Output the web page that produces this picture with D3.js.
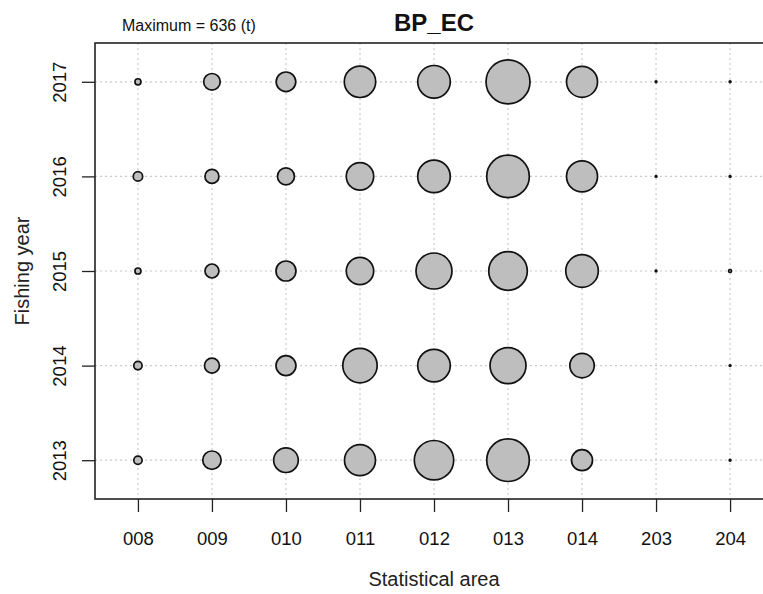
<!DOCTYPE html>
<html>
<head>
<meta charset="utf-8">
<script src="https://cdn.jsdelivr.net/npm/d3@7"></script>
<style>
  body { margin: 0; background: #fff; }
  svg { font-family: "Liberation Sans", Arial, sans-serif; }
</style>
</head>
<body>
<div id="chart"></div>
<script>
const areas = ["008", "009", "010", "011", "012", "013", "014", "203", "204"];
const years = [2013, 2014, 2015, 2016, 2017];

// catch (t) per area, one array per fishing year
const catch2013 = [23, 111, 199, 316, 510, 596, 145, 0, 1];
const catch2014 = [23, 74, 131, 389, 349, 426, 196, 0, 1];
const catch2015 = [12, 64, 131, 247, 426, 489, 349, 1, 3];
const catch2016 = [29, 64, 95, 247, 349, 596, 316, 1, 1];
const catch2017 = [12, 90, 126, 324, 349, 636, 316, 1, 1];

const catchByYear = [catch2013, catch2014, catch2015, catch2016, catch2017];
const maxCatch = 636;

const w = 763,
  h = 594;
const plotLeft = 95,
  plotRight = 773,
  plotTop = 43,
  plotBottom = 499;

const svg = d3
  .select("#chart")
  .append("svg")
  .attr("width", w)
  .attr("height", h);

const xScale = d3.scalePoint().domain(areas).range([plotLeft, plotRight]).padding(0.58);
const yScale = d3.scalePoint().domain(years).range([plotBottom, plotTop]).padding(0.41);
const rScale = d3.scaleSqrt().domain([0, maxCatch]).range([0, 22]);

// grid
const grid = svg.append("g").attr("stroke", "#cccccc").attr("stroke-width", 1.2).attr("stroke-dasharray", "2,3");
grid
  .selectAll("line.v")
  .data(areas)
  .enter()
  .append("line")
  .attr("x1", (d) => xScale(d))
  .attr("x2", (d) => xScale(d))
  .attr("y1", plotTop)
  .attr("y2", plotBottom);
grid
  .selectAll("line.h")
  .data(years)
  .enter()
  .append("line")
  .attr("x1", plotLeft)
  .attr("x2", plotRight)
  .attr("y1", (d) => yScale(d))
  .attr("y2", (d) => yScale(d));

// bubbles
const cells = [];
years.forEach((yr, i) => {
  areas.forEach((a, j) => {
    cells.push({ area: a, year: yr, value: catchByYear[i][j] });
  });
});

svg
  .append("g")
  .selectAll("circle")
  .data(cells.filter((d) => d.value > 0))
  .enter()
  .append("circle")
  .attr("cx", (d) => xScale(d.area))
  .attr("cy", (d) => yScale(d.year))
  .attr("r", (d) => rScale(d.value))
  .attr("fill", "#bebebe")
  .attr("stroke", "#111")
  .attr("stroke-width", 1.7);

// box
svg
  .append("rect")
  .attr("x", plotLeft)
  .attr("y", plotTop)
  .attr("width", plotRight - plotLeft)
  .attr("height", plotBottom - plotTop)
  .attr("fill", "none")
  .attr("stroke", "#222")
  .attr("stroke-width", 1.6);

// axes
const xAxis = svg
  .append("g")
  .attr("transform", `translate(0,${plotBottom})`)
  .call(d3.axisBottom(xScale).tickSize(13).tickPadding(20));
xAxis.select(".domain").remove();
xAxis.selectAll("line").attr("stroke", "#222").attr("stroke-width", 1.3);
xAxis.selectAll("text").attr("font-size", 18.5).attr("fill", "#111").style("font-family", "Liberation Sans, Arial, sans-serif");

const yAxis = svg
  .append("g")
  .attr("transform", `translate(${plotLeft},0)`)
  .call(d3.axisLeft(yScale).tickSize(13));
yAxis.select(".domain").remove();
yAxis.selectAll("line").attr("stroke", "#222").attr("stroke-width", 1.3);
yAxis
  .selectAll("text")
  .attr("x", 0)
  .attr("dy", 0)
  .attr("text-anchor", "middle")
  .attr("transform", "translate(-29,0) rotate(-90)")
  .attr("font-size", 18.5)
  .attr("fill", "#111")
  .style("font-family", "Liberation Sans, Arial, sans-serif");

// titles
svg
  .append("text")
  .attr("x", (plotLeft + plotRight) / 2)
  .attr("y", 31)
  .attr("text-anchor", "middle")
  .attr("font-size", 24)
  .attr("font-weight", "bold")
  .attr("fill", "#111")
  .text("BP_EC");

svg
  .append("text")
  .attr("x", 122)
  .attr("y", 31)
  .attr("font-size", 16)
  .attr("fill", "#111")
  .text("Maximum = " + maxCatch + " (t)");

svg
  .append("text")
  .attr("x", (plotLeft + plotRight) / 2)
  .attr("y", 586)
  .attr("text-anchor", "middle")
  .attr("font-size", 20)
  .attr("fill", "#222")
  .text("Statistical area");

svg
  .append("text")
  .attr("transform", `translate(29,${(plotTop + plotBottom) / 2}) rotate(-90)`)
  .attr("text-anchor", "middle")
  .attr("font-size", 20)
  .attr("fill", "#222")
  .text("Fishing year");
</script>
</body>
</html>
